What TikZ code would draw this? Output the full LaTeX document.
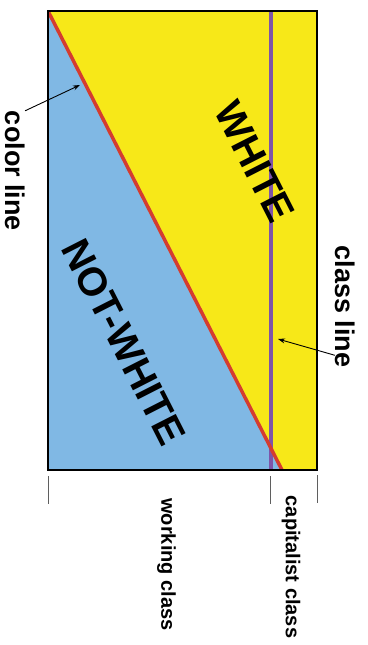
\documentclass[tikz,border=0pt]{standalone}
\usepackage{fontspec}
\setmainfont{Liberation Sans}
\usetikzlibrary{arrows.meta,calc}
\definecolor{skyb}{RGB}{128,184,228}
\definecolor{yell}{RGB}{247,232,24}
\definecolor{redl}{RGB}{212,60,48}
\definecolor{purp}{RGB}{126,84,168}
\definecolor{tickg}{RGB}{95,95,95}
\begin{document}
\begin{tikzpicture}[x=1pt,y=-1pt,
  sidelbl/.style={font=\bfseries\fontsize{27}{30}\selectfont, inner sep=0pt, rotate=-90},
  classlbl/.style={font=\bfseries\fontsize{20}{24}\selectfont, inner sep=0pt, rotate=-90},
  biglbl/.style={font=\bfseries\fontsize{40}{44}\selectfont, inner sep=0pt, rotate=-63},
  arr/.style={-{Stealth[length=7pt,width=5pt]}, line width=0.9pt, black},
  tickmark/.style={tickg, line width=1pt}]
\useasboundingbox (0,0) rectangle (367,645);
\begin{scope}
\clip (48,11) rectangle (317,470);
\fill[skyb] (48,11) -- (282,470) -- (48,470) -- cycle;
\fill[yell] (48,11) -- (317,11) -- (317,470) -- (282,470) -- cycle;
\draw[purp, line width=3.5pt] (271,11) -- (271,470);
\draw[redl, line width=3.5pt] (48,11) -- (282,470);
\end{scope}
\draw[line width=2pt] (48,11) rectangle (317,470);
% labels
\node[biglbl] (white) at (255,162) {WHITE};
\node[biglbl] (notwhite) at (124,342) {NOT-WHITE};
\node[sidelbl] (colorlbl) at (15,171) {color line};
\node[sidelbl] (classlinelbl) at (345,306.5) {class line};
\node[classlbl] (working) at (166.5,564.5) {working class};
\node[classlbl] (capitalist) at (291,567) {capitalist class};
% arrows
\coordinate (colorhead) at (80,85);
\coordinate (classhead) at (278,339);
\draw[arr] (colorlbl.north west) -- (colorhead);
\draw[arr] ($(classlinelbl.south east)!0.1!(classlinelbl.south west)$) -- (classhead);
% ticks
\draw[tickmark] (48,476) -- (48,504);
\draw[tickmark] (270,476) -- (270,504);
\draw[tickmark] (317,475) -- (317,503);
\end{tikzpicture}
\end{document}
